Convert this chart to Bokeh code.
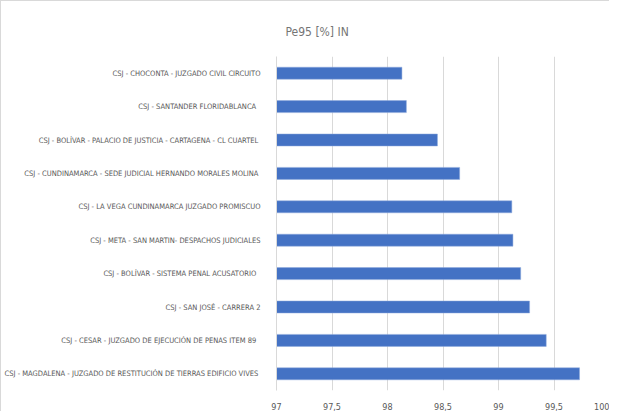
from bokeh.plotting import figure
from bokeh.models import ColumnDataSource, FactorRange, CustomJSTickFormatter, FixedTicker
from bokeh.embed import file_html
from bokeh.resources import INLINE

categories = [
    "CSJ - CHOCONTA - JUZGADO CIVIL CIRCUITO",
    "CSJ  - SANTANDER  FLORIDABLANCA",
    "CSJ - BOLÍVAR -  PALACIO DE JUSTICIA - CARTAGENA - CL CUARTEL",
    "CSJ - CUNDINAMARCA -  SEDE JUDICIAL HERNANDO MORALES MOLINA",
    "CSJ - LA VEGA CUNDINAMARCA JUZGADO PROMISCUO",
    "CSJ - META - SAN MARTIN- DESPACHOS JUDICIALES",
    "CSJ - BOLÍVAR -  SISTEMA PENAL  ACUSATORIO",
    "CSJ - SAN JOSÉ - CARRERA 2",
    "CSJ - CESAR -  JUZGADO DE EJECUCIÓN DE PENAS  ITEM 89",
    "CSJ - MAGDALENA -  JUZGADO DE RESTITUCIÓN DE TIERRAS EDIFICIO VIVES",
]
values = [98.13, 98.17, 98.45, 98.65, 99.12, 99.13, 99.20, 99.28, 99.43, 99.73]
x_ticks = [97, 97.5, 98, 98.5, 99, 99.5, 100]
baseline = 97

source = ColumnDataSource(dict(cat=categories, val=values, left=[baseline] * len(values)))

FONT = "DejaVu Sans Condensed"

p = figure(
    width=609, height=411,
    y_range=FactorRange(*list(reversed(categories))),
    x_range=(97, 100),
    output_backend="svg", toolbar_location=None,
    title="Pe95 [%] IN",
    min_border_left=268, min_border_right=1, min_border_top=55, min_border_bottom=21,
)
p.styles = {"border-top": "1px solid #d9d9d9", "border-left": "1px solid #d9d9d9"}
p.hbar(y="cat", left="left", right="val", height=0.36, source=source,
       fill_color="#4472C4", line_color="#8FAADC", line_width=0.5)

p.title.align = "left"
p.title.offset = 9
p.title.text_color = "#757575"
p.title.text_font = FONT
p.title.text_font_size = "12px"
p.title.text_font_style = "normal"
p.title.standoff = 36

p.outline_line_color = None
p.background_fill_color = "white"
p.border_fill_color = "white"

p.xaxis.ticker = FixedTicker(ticks=x_ticks)
p.xaxis.formatter = CustomJSTickFormatter(code="return tick.toString().replace('.', ',');")
p.xaxis.axis_line_color = None
p.xaxis.major_tick_line_color = None
p.xaxis.minor_tick_line_color = None
p.xaxis.major_label_text_color = "#595959"
p.xaxis.major_label_text_font = FONT
p.xaxis.major_label_text_font_size = "9px"
p.xaxis.major_label_standoff = 6

p.yaxis.axis_line_color = "#d9d9d9"
p.yaxis.major_tick_line_color = None
p.yaxis.minor_tick_line_color = None
p.yaxis.major_label_text_color = "#595959"
p.yaxis.major_label_text_font = FONT
p.yaxis.major_label_text_font_size = "7.5px"
p.yaxis.major_label_standoff = 10

p.xgrid.grid_line_color = "#d9d9d9"
p.ygrid.grid_line_color = None

open("out.html", "w").write(file_html(p, INLINE))
